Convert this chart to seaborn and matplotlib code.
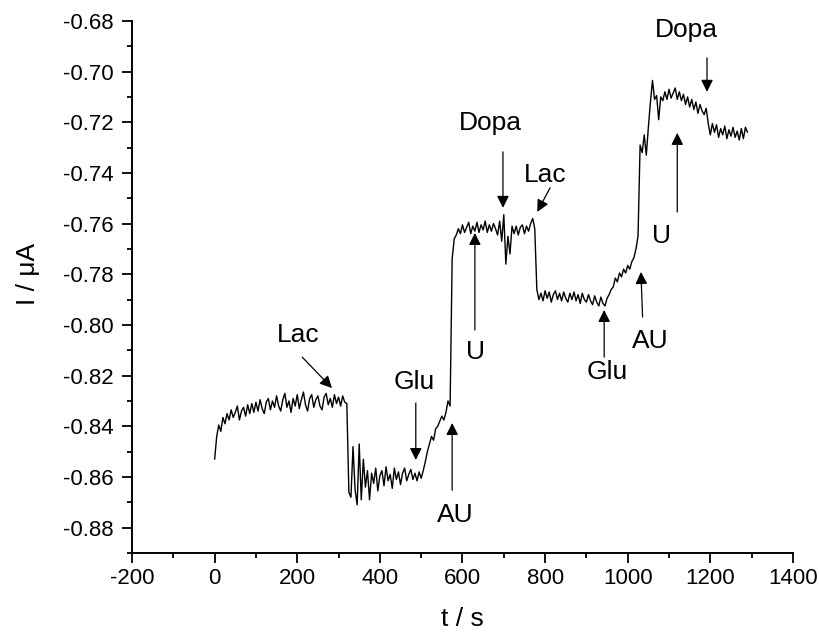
import numpy as np
import pandas as pd
import matplotlib
matplotlib.use("Agg")
import matplotlib.pyplot as plt
from matplotlib.ticker import AutoMinorLocator, MultipleLocator
import seaborn as sns

# ---- data (current trace, sampled every 5 s, per segment) ----
seg_a_start = 0
seg_a = [-0.8530, -0.8440, -0.8395, -0.8420, -0.8365, -0.8390, -0.8350, -0.8375, -0.8335, -0.8365,
         -0.8345, -0.8320, -0.8375, -0.8340, -0.8325, -0.8360, -0.8315, -0.8350, -0.8310, -0.8345,
         -0.8305, -0.8340, -0.8295, -0.8330, -0.8350, -0.8305, -0.8290, -0.8335, -0.8300, -0.8325,
         -0.8280, -0.8320, -0.8340, -0.8295, -0.8270, -0.8325, -0.8300, -0.8345, -0.8290, -0.8320,
         -0.8275, -0.8330, -0.8295, -0.8265, -0.8315, -0.8340, -0.8290, -0.8275, -0.8325, -0.8295,
         -0.8280, -0.8320, -0.8335, -0.8285, -0.8270, -0.8315, -0.8290, -0.8325, -0.8275, -0.8310,
         -0.8285, -0.8320, -0.8280, -0.8305, -0.8310]
seg_b_start = 325
seg_b = [-0.8660, -0.8680, -0.8480, -0.8650, -0.8710, -0.8470, -0.8690, -0.8530, -0.8640, -0.8575,
         -0.8690, -0.8585, -0.8625, -0.8565, -0.8655, -0.8595, -0.8575, -0.8635, -0.8560, -0.8615,
         -0.8590, -0.8645, -0.8565, -0.8610, -0.8580, -0.8630, -0.8585, -0.8565, -0.8615, -0.8590,
         -0.8570, -0.8610, -0.8585, -0.8615, -0.8580, -0.8605,
         -0.8575, -0.8540, -0.8500, -0.8470, -0.8440, -0.8455, -0.8410, -0.8400, -0.8380, -0.8360,
         -0.8375, -0.8345, -0.8300, -0.8320]
seg_c_start = 575
seg_c = [-0.7740, -0.7660, -0.7645, -0.7620, -0.7640, -0.7605, -0.7635, -0.7615, -0.7595, -0.7640,
         -0.7610, -0.7630, -0.7595, -0.7635, -0.7605, -0.7625, -0.7590, -0.7635, -0.7605, -0.7630,
         -0.7600, -0.7620, -0.7645, -0.7590, -0.7670, -0.7565, -0.7760, -0.7650, -0.7720, -0.7610,
         -0.7640, -0.7610, -0.7645, -0.7615, -0.7605, -0.7640, -0.7610, -0.7630, -0.7600, -0.7580,
         -0.7620]
seg_d_start = 780
seg_d = [-0.7860, -0.7900, -0.7875, -0.7905, -0.7865, -0.7895, -0.7870, -0.7910, -0.7880, -0.7865,
         -0.7900, -0.7875, -0.7905, -0.7870, -0.7895, -0.7910, -0.7875, -0.7900, -0.7870, -0.7905,
         -0.7880, -0.7915, -0.7875, -0.7900, -0.7910, -0.7880, -0.7905, -0.7920, -0.7885, -0.7910,
         -0.7925, -0.7890, -0.7915, -0.7925, -0.7895, -0.7880, -0.7860, -0.7850, -0.7815, -0.7830,
         -0.7795, -0.7810, -0.7780, -0.7795, -0.7765, -0.7780, -0.7750, -0.7735, -0.7700, -0.7650]
seg_e_start = 1030
seg_e = [-0.7290, -0.7320, -0.7250, -0.7330, -0.7220, -0.7120, -0.7035, -0.7110, -0.7095, -0.7190,
         -0.7100, -0.7115, -0.7080, -0.7110, -0.7070, -0.7105, -0.7085, -0.7065, -0.7110, -0.7080,
         -0.7115, -0.7090, -0.7130, -0.7100, -0.7140, -0.7110, -0.7150, -0.7120, -0.7165, -0.7130,
         -0.7155, -0.7170, -0.7145, -0.7205, -0.7250, -0.7205, -0.7240, -0.7210, -0.7260, -0.7225,
         -0.7250, -0.7215, -0.7265, -0.7230, -0.7255, -0.7220, -0.7260, -0.7235, -0.7270, -0.7225,
         -0.7265, -0.7220, -0.7240]
sample_step = 5

# ---- annotations: label, text position, arrow tail, arrow head (data coords) ----
ann_labels = ["Lac", "Glu", "AU", "U", "Dopa", "Lac", "Glu", "AU", "U", "Dopa"]
ann_text_xy = [(202, -0.8040), (483, -0.8225), (582, -0.8750), (632, -0.8107), (667, -0.7203),
               (800, -0.7408), (950, -0.8186), (1054, -0.8063), (1083, -0.7649), (1141, -0.6836)]
ann_tail_xy = [(212, -0.8127), (487, -0.8308), (575, -0.8652), (630, -0.8020), (698, -0.7317),
               (812, -0.7459), (943, -0.8127), (1036, -0.7969), (1120, -0.7554), (1192, -0.6946)]
ann_head_xy = [(284, -0.8249), (487, -0.8533), (575, -0.8387), (630, -0.7637), (698, -0.7538),
               (781, -0.7554), (943, -0.7941), (1032, -0.7791), (1120, -0.7242), (1192, -0.7080)]

# ---- build table ----
segments = [(seg_a_start, seg_a), (seg_b_start, seg_b), (seg_c_start, seg_c),
            (seg_d_start, seg_d), (seg_e_start, seg_e)]
t_all, i_all = [], []
for start, vals in segments:
    t_all.extend(start + sample_step * np.arange(len(vals)))
    i_all.extend(vals)
df = pd.DataFrame({"t": t_all, "I": i_all})

# ---- style ----
sns.set_theme(style="ticks")
plt.rcParams["font.family"] = ["Liberation Sans", "DejaVu Sans"]
plt.rcParams["axes.unicode_minus"] = False

fig = plt.figure(figsize=(8.2, 6.32), dpi=100)
ax = fig.add_axes([0.161, 0.125, 0.806, 0.842])

sns.lineplot(data=df, x="t", y="I", ax=ax, color="black", linewidth=1.0,
             estimator=None, sort=False)

ax.set_xlim(-200, 1400)
ax.set_ylim(-0.89, -0.68)
ax.xaxis.set_major_locator(MultipleLocator(200))
ax.xaxis.set_minor_locator(AutoMinorLocator(2))
ax.yaxis.set_major_locator(MultipleLocator(0.02))
ax.yaxis.set_minor_locator(AutoMinorLocator(2))
ax.yaxis.set_major_formatter(matplotlib.ticker.FormatStrFormatter("%.2f"))

for s in ["top", "right"]:
    ax.spines[s].set_visible(False)
for s in ["left", "bottom"]:
    ax.spines[s].set_linewidth(1.4)
    ax.spines[s].set_color("black")

ax.tick_params(axis="both", which="major", direction="out", length=7, width=1.3,
               labelsize=16, colors="black", pad=4)
ax.tick_params(axis="y", which="major", pad=6)
ax.tick_params(axis="both", which="minor", direction="out", length=3.6, width=1.3, colors="black")

ax.set_xlabel("t / s", fontsize=19, labelpad=13, color="black")
ax.set_ylabel("I / μA", fontsize=19, labelpad=17, color="black")
ax.yaxis.label.set_y(0.525)

for lab, txy, tail, head in zip(ann_labels, ann_text_xy, ann_tail_xy, ann_head_xy):
    ax.text(txy[0], txy[1], lab, fontsize=19, ha="center", va="center", color="black")
    ax.annotate("", xy=head, xytext=tail,
                arrowprops=dict(arrowstyle="-|>", color="black", lw=0.9,
                                mutation_scale=18, shrinkA=0, shrinkB=0))

fig.savefig("out.png", dpi=100)
